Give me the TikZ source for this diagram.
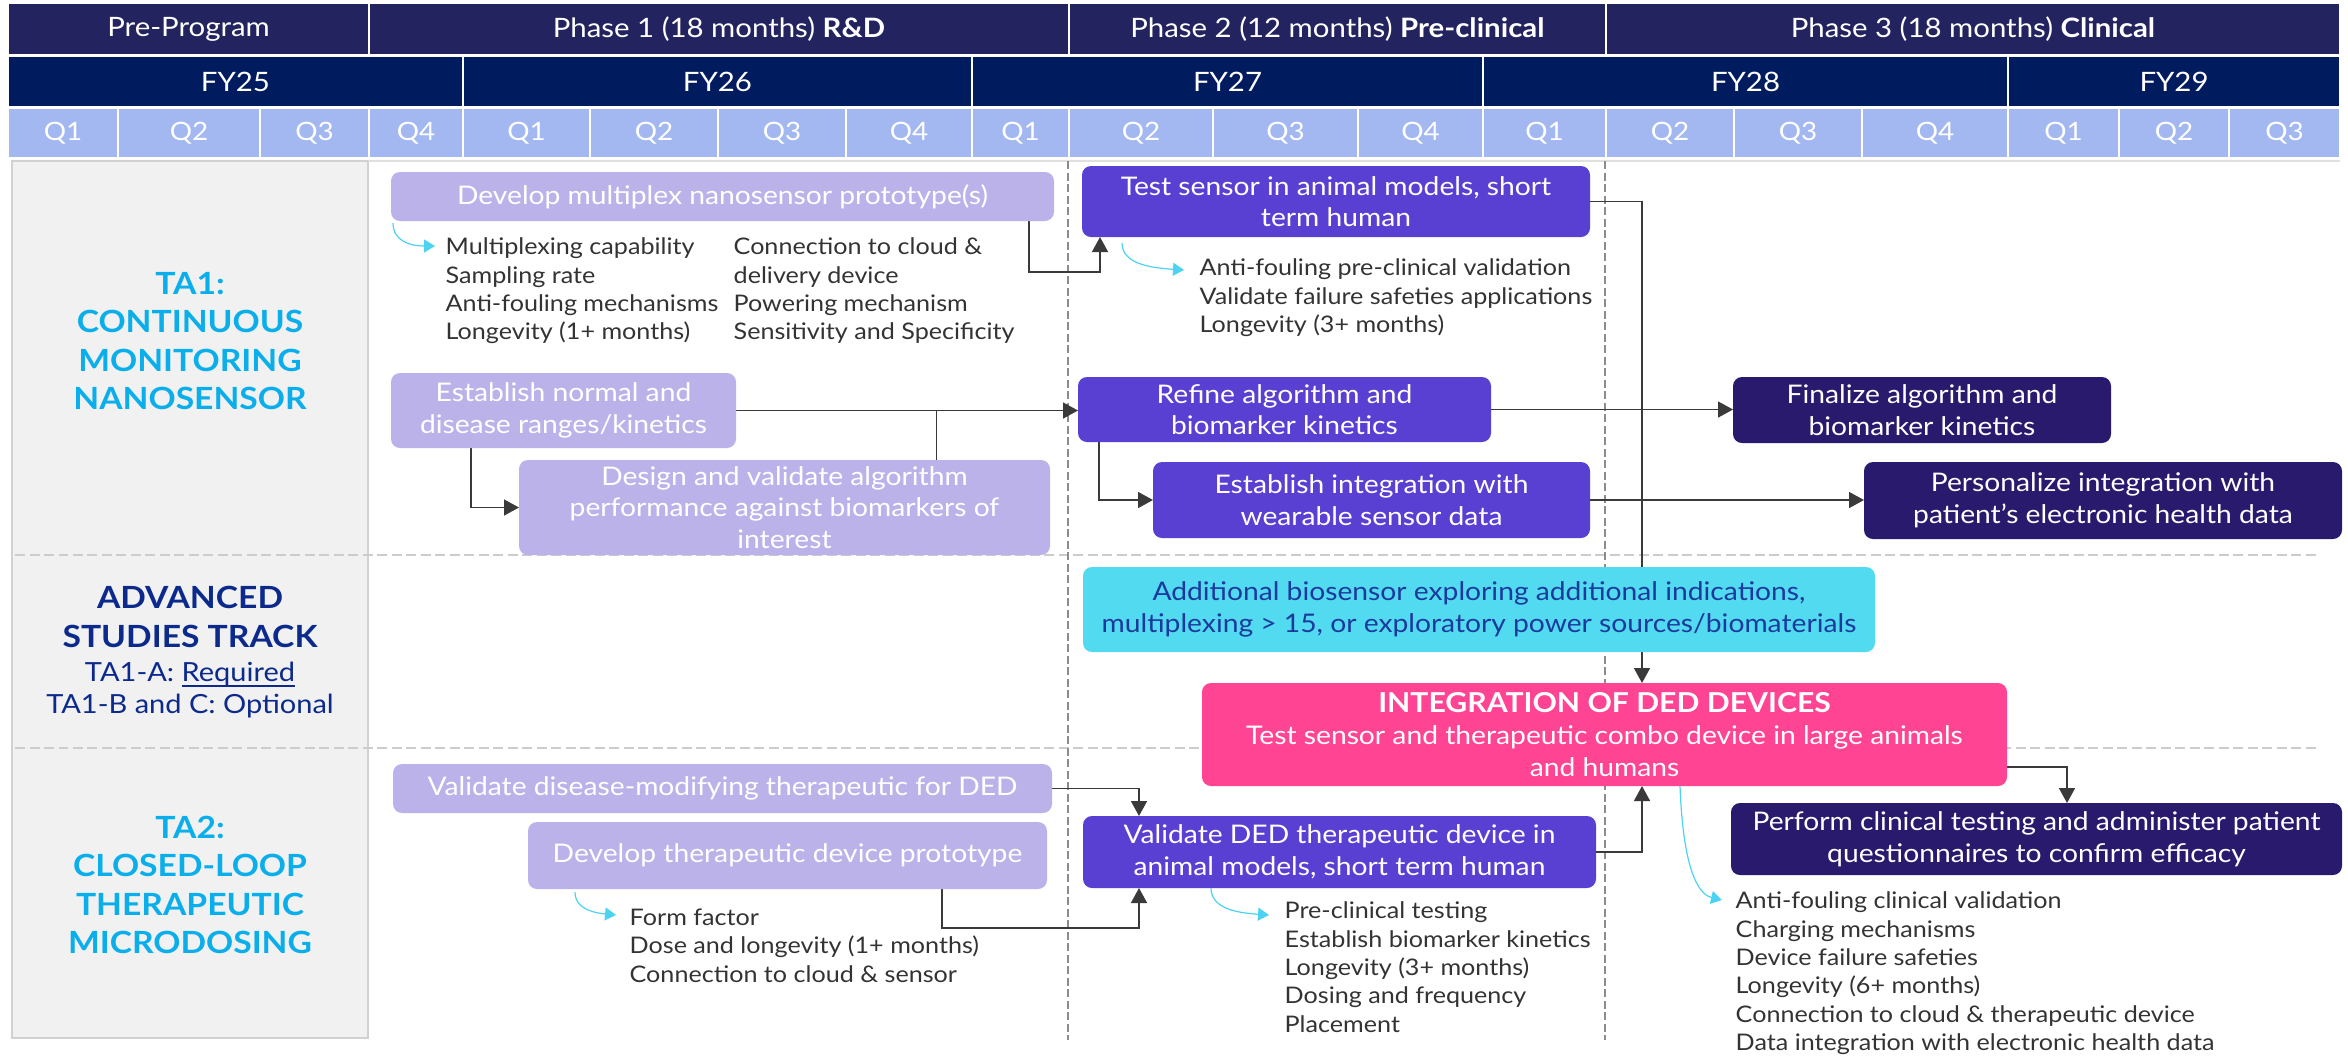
\documentclass[tikz,border=0pt]{standalone}
\usepackage{fontspec}
\setmainfont{Lato}[FakeStretch=1.1]
\usetikzlibrary{arrows.meta,backgrounds,calc}

\definecolor{phasebg}{HTML}{232360}
\definecolor{fybg}{HTML}{001B5E}
\definecolor{qbg}{HTML}{A3B8F0}
\definecolor{boxlav}{HTML}{BCB2EA}
\definecolor{boxpurple}{HTML}{5940D2}
\definecolor{boxnavy}{HTML}{2A1A6E}
\definecolor{boxaqua}{HTML}{52DAF0}
\definecolor{aquatext}{HTML}{1B3A9C}
\definecolor{boxpink}{HTML}{FF4493}
\definecolor{tacyan}{HTML}{0AAEEB}
\definecolor{advnavy}{HTML}{0B2A8C}
\definecolor{hintcyan}{HTML}{4CD3F1}
\definecolor{panelgray}{HTML}{F1F1F1}
\definecolor{connline}{HTML}{3A3A3A}
\definecolor{notegray}{HTML}{333333}

% box from its corners: name, style, x1, y1, x2, y2, text
\newcommand{\TaskBox}[7]{%
  \node[#2, minimum width={(#5-#3)*0.1mm}, minimum height={(#6-#4)*0.1mm}] (#1) at ({(#3+#5)/2},{(#4+#6)/2}) {#7};}

\tikzset{
  hdr/.style={draw=white, line width=0.2mm, inner sep=0, outer sep=0, text=white, font=\fontsize{7.6}{9}\selectfont},
  phasecell/.style={hdr, fill=phasebg},
  fycell/.style={hdr, fill=fybg},
  qcell/.style={hdr, fill=qbg, font=\fontsize{7.2}{9}\selectfont},
  task/.style={rounded corners=0.9mm, inner sep=0, outer sep=0, align=center, text=white, font=\fontsize{7.3}{9}\selectfont},
  early/.style={task, fill=boxlav},
  mid/.style={task, fill=boxpurple},
  late/.style={task, fill=boxnavy},
  extra/.style={task, fill=boxaqua, text=aquatext},
  merge/.style={task, fill=boxpink},
  notes/.style={anchor=north west, inner sep=0, align=left, text=notegray, font=\fontsize{6.5}{8.1}\selectfont},
  link/.style={draw=connline, line width=0.15mm, -{Triangle[length=1.5mm,width=1.6mm]}},
  joinline/.style={draw=connline, line width=0.15mm},
  hint/.style={draw=hintcyan, line width=0.12mm, -{Triangle[length=1.1mm,width=1.3mm]}},
  talabel/.style={align=center, text=tacyan, font=\bfseries\fontsize{8.7}{10.9}\selectfont},
  advtitle/.style={align=center, text=advnavy, font=\bfseries\fontsize{8.7}{11}\selectfont},
  advsub/.style={align=center, text=advnavy, font=\fontsize{7.5}{9.1}\selectfont},
  rowsep/.style={draw=black!20, line width=0.25mm, dash pattern=on 1mm off 0.45mm},
  phasesep/.style={draw=black!45, line width=0.12mm, dash pattern=on 0.8mm off 0.35mm},
}

\begin{document}
\begin{tikzpicture}[x=0.1mm,y=-0.1mm]
  \useasboundingbox (0,0) rectangle (2348,1055);

  % header rows
  \foreach \nm/\xa/\xb/\lbl in {pre/8/369/Pre-Program, ph1/369/1069/{Phase 1 (18 months) \textbf{R\&D}},
      ph2/1069/1606/{Phase 2 (12 months) \textbf{Pre-clinical}}, ph3/1606/2340/{Phase 3 (18 months) \textbf{Clinical}}}
    {\TaskBox{\nm}{phasecell}{\xa}{3}{\xb}{55}{\lbl}}
  \foreach \nm/\xa/\xb/\lbl in {fy25/8/463/FY25, fy26/463/972/FY26, fy27/972/1483/FY27, fy28/1483/2008/FY28, fy29/2008/2340/FY29}
    {\TaskBox{\nm}{fycell}{\xa}{56}{\xb}{107}{\lbl}}
  \foreach \nm/\xa/\xb/\lbl in {qa/8/118/Q1, qb/118/260/Q2, qc/260/369/Q3, qd/369/463/Q4,
      qe/463/590/Q1, qf/590/718/Q2, qg/718/846/Q3, qh/846/972/Q4,
      qi/972/1069/Q1, qj/1069/1213/Q2, qk/1213/1358/Q3, ql/1358/1483/Q4,
      qm/1483/1606/Q1, qn/1606/1734/Q2, qo/1734/1862/Q3, qp/1862/2008/Q4,
      qq/2008/2119/Q1, qr/2119/2229/Q2, qs/2229/2340/Q3}
    {\TaskBox{\nm}{qcell}{\xa}{108}{\xb}{158}{\lbl}}

  % track labels
  \node[talabel] (ta1) at (190,341) {TA1:\\CONTINUOUS\\MONITORING\\NANOSENSOR};
  \node[advtitle] (adv) at (190,617) {ADVANCED\\STUDIES TRACK};
  \node[advsub] (advopt) at (190,690) {TA1-A: \underline{\smash{Required}}\\TA1-B and C: Optional};
  \node[talabel] (ta2) at (190,885) {TA2:\\CLOSED-LOOP\\THERAPEUTIC\\MICRODOSING};

  % TA1
  \TaskBox{dev}{early}{391}{172}{1054}{221}{Develop multiplex nanosensor prototype(s)}
  \TaskBox{test}{mid}{1082}{166}{1590}{237}{Test sensor in animal models, short\\term human}
  \TaskBox{estn}{early}{391}{373}{736}{448}{Establish normal and\\disease ranges/kinetics}
  \TaskBox{design}{early}{519}{460}{1050}{555}{Design and validate algorithm\\performance against biomarkers of\\interest}
  \TaskBox{refine}{mid}{1078}{377}{1491}{442}{Refine algorithm and\\biomarker kinetics}
  \TaskBox{final}{late}{1733}{377}{2111}{443}{Finalize algorithm and\\biomarker kinetics}
  \TaskBox{integ}{mid}{1153}{462}{1590}{538}{Establish integration with\\wearable sensor data}
  \TaskBox{person}{late}{1864}{462}{2342}{539}{Personalize integration with\\patient’s electronic health data}

  \node[notes] (devn) at (445,237) {Multiplexing capability\\Sampling rate\\Anti-fouling mechanisms\\Longevity (1+ months)};
  \node[notes] (devm) at (733,237) {Connection to cloud \&\\delivery device\\Powering mechanism\\Sensitivity and Specificity};
  \node[notes] (testn) at (1199,258) {Anti-fouling pre-clinical validation\\Validate failure safeties applications\\Longevity (3+ months)};

  % advanced studies
  \TaskBox{addl}{extra}{1083}{567}{1875}{652}{Additional biosensor exploring additional indications,\\multiplexing > 15, or exploratory power sources/biomaterials}
  \TaskBox{ded}{merge}{1202}{683}{2007}{786}{{\bfseries\fontsize{7.8}{9}\selectfont INTEGRATION OF DED DEVICES}\\Test sensor and therapeutic combo device in large animals\\and humans}

  % TA2
  \TaskBox{vdis}{early}{393}{764}{1052}{813}{Validate disease-modifying therapeutic for DED}
  \TaskBox{devtp}{early}{528}{822}{1047}{889}{Develop therapeutic device prototype}
  \TaskBox{vded}{mid}{1083}{816}{1596}{888}{Validate DED therapeutic device in\\animal models, short term human}
  \TaskBox{clin}{late}{1731}{803}{2342}{875}{Perform clinical testing and administer patient\\questionnaires to confirm efficacy}

  \node[notes] (devtpn) at (629,908) {Form factor\\Dose and longevity (1+ months)\\Connection to cloud \& sensor};
  \node[notes] (vdedn) at (1284,901) {Pre-clinical testing\\Establish biomarker kinetics\\Longevity (3+ months)\\Dosing and frequency\\Placement};
  \node[notes] (dedn) at (1735,891) {Anti-fouling clinical validation\\Charging mechanisms\\Device failure safeties\\Longevity (6+ months)\\Connection to cloud \& therapeutic device\\Data integration with electronic health data};

  \begin{scope}[on background layer]
    \fill[panelgray, draw=black!18] (12,161) rectangle (368,1038);
    \draw[black!12] (368,161) -- (2340,161);
    \draw[rowsep] (15,555) -- (2317,555);
    \draw[rowsep] (15,748) -- (2317,748);
    \draw[phasesep] (1068,161) -- (1068,1040);
    \draw[phasesep] (1605,161) -- (1605,1040);

    \draw[link] ([xshift=-2.5mm]dev.south east) -- ++(0,51) -| ([xshift=1.8mm]test.south west);
    \draw[link] (estn.east) -- (estn.east -| refine.west);
    \draw[joinline] ([xshift=15.2mm]design.north) |- (estn.east);
    \draw[link] ([xshift=8mm]estn.south west) |- (design.west);
    \draw[link] (refine.east) -- (refine.east -| final.west);
    \draw[link] ([xshift=2.1mm]refine.south west) |- (integ.west);
    \draw[link] (integ.east) -- (integ.east -| person.west);
    \draw[link] (test.east) -| ([xshift=3.75mm]ded.north);
    \draw[link] ([yshift=1.9mm]ded.south east) -| ([xshift=3.05mm]clin.north);
    \draw[link] (vdis.east) -| ([xshift=5.6mm]vded.north west);
    \draw[link] ([xshift=-10.5mm]devtp.south east) -- ++(0,39) -| ([xshift=5.6mm]vded.south west);
    \draw[link] (vded.east) -| ([xshift=3.75mm]ded.south);
  \end{scope}

  % cyan pointers to the note lists
  \draw[hint] ([shift={(0.2mm,-0.2mm)}]dev.south west) .. controls +(0,18) and +(-25,0) .. ([shift={(-1mm,-0.9mm)}]devn.north west);
  \draw[hint] ([shift={(4mm,-0.6mm)}]test.south west) .. controls +(0,22) and +(-30,-2) .. ([shift={(-1.5mm,-1.2mm)}]testn.north west);
  \draw[hint] ([shift={(4.7mm,-0.3mm)}]devtp.south west) .. controls +(0,18) and +(-20,-2) .. ([shift={(-1.3mm,-0.7mm)}]devtpn.north west);
  \draw[hint] ([xshift=12.8mm]vded.south west) .. controls +(0,22) and +(-28,-2) .. ([shift={(-1.5mm,-1.4mm)}]vdedn.north west);
  \draw[hint] ([xshift=47.8mm]ded.south west) .. controls +(3,80) and +(-25,-6) .. ([shift={(-1.3mm,-0.9mm)}]dedn.north west);
\end{tikzpicture}
\end{document}
